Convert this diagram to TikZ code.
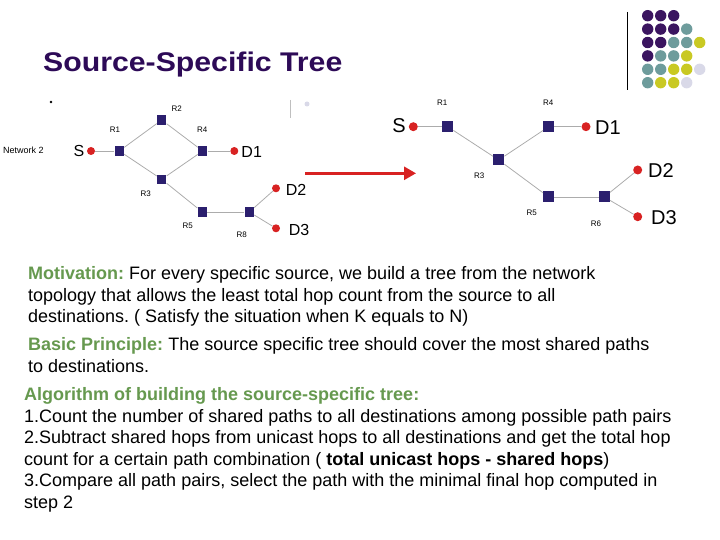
\documentclass[tikz,border=0pt]{standalone}
\usepackage{fontspec}
\setmainfont{Liberation Sans}
\newfontfamily\titlefont[FakeStretch=1.12]{Liberation Sans}
\newfontfamily\bodyfont{Liberation Sans}
\usetikzlibrary{arrows.meta}
\definecolor{titlecol}{HTML}{2D0A57}
\definecolor{headcol}{HTML}{66994F}
\definecolor{navy}{HTML}{2B1F6E}
\definecolor{dotred}{HTML}{D82222}
\definecolor{dp}{HTML}{3B1560}
\definecolor{tl}{HTML}{6E9C9C}
\definecolor{yl}{HTML}{C9C923}
\definecolor{lv}{HTML}{D9D9E8}
\frenchspacing

\begin{document}
\begin{tikzpicture}[x=1pt, y=-1pt,
  rt/.style={rectangle, fill=navy, minimum size=9.5pt, inner sep=0pt},
  rtb/.style={rectangle, fill=navy, minimum size=11pt, inner sep=0pt},
  dst/.style={circle, fill=dotred, minimum size=8pt, inner sep=0pt},
  dstb/.style={circle, fill=dotred, minimum size=9pt, inner sep=0pt},
  rlbl/.style={font=\fontsize{8}{9}\selectfont, inner sep=0pt},
  elbl/.style={font=\fontsize{16}{18}\selectfont, inner sep=0pt},
  elblb/.style={font=\fontsize{20}{22}\selectfont, inner sep=0pt},
  link/.style={draw=gray!65, line width=0.8pt},
  para/.style={font=\bodyfont\fontsize{18}{21.5}\selectfont, align=left,
               anchor=north west, inner sep=0pt},
  head/.style={color=headcol, font=\bfseries}
]
\useasboundingbox (0,0) rectangle (720,540);

% title and corner dots
\node[anchor=base west, inner sep=0pt, text=titlecol,
      font=\titlefont\bfseries\fontsize{27}{30}\selectfont] (title) at (43,71.5) {Source-Specific Tree};
\draw[line width=1pt] (627,12) -- (627,90);
\foreach \r/\lst in {0/{dp,dp,dp},1/{dp,dp,dp,tl},2/{dp,dp,tl,tl,yl},
                     3/{dp,tl,tl,yl},4/{tl,tl,yl,yl,lv},5/{tl,yl,yl,lv}}
  \foreach \c [count=\k from 0] in \lst
    \fill[\c] (647.7+13*\k, 15.7+13.4*\r) circle (5.7pt);

% leftover bullets
\fill (51,102) circle (1.3pt);
\draw[gray!50, line width=0.8pt] (290,100) -- (290,118);
\fill[lv] (307,104) circle (2.5pt);

% network 2
\node[anchor=west, inner sep=0pt, font=\fontsize{9}{10}\selectfont] (net) at (3,150) {Network 2};
\node[dst] (s) at (91,151) {};
\node[rt] (r1) at (119.3,151) {};
\node[rt] (r2) at (161.7,120) {};
\node[rt] (r4) at (202.7,151) {};
\node[rt] (r3) at (161.7,179.3) {};
\node[rt] (r5) at (202.3,212) {};
\node[rt] (r8) at (249.3,212) {};
\node[dst] (d1) at (234.3,151) {};
\node[dst] (d2) at (276,188.3) {};
\node[dst] (d3) at (276,228.3) {};
\node[elbl] at (79,150.5) {S};
\node[elbl] at (251.7,151.5) {D1};
\node[elbl] at (296,189.5) {D2};
\node[elbl] at (299,229.5) {D3};
\node[rlbl] at (115,130) {R1};
\node[rlbl] at (176.7,109) {R2};
\node[rlbl] at (202.3,130) {R4};
\node[rlbl] at (145.7,193.3) {R3};
\node[rlbl] at (187.7,226) {R5};
\node[rlbl] at (241.7,235) {R8};
\draw[link] (s) -- (r1);
\draw[link] (r1) -- (r2);
\draw[link] (r1) -- (r3);
\draw[link] (r2) -- (r4);
\draw[link] (r3) -- (r4);
\draw[link] (r4) -- (d1);
\draw[link] (r3) -- (r5);
\draw[link] (r5) -- (r8);
\draw[link] (r8) -- (d2);
\draw[link] (r8) -- (d3);

% arrow
\coordinate (arrS) at (305,173.3);
\coordinate (arrE) at (416,173.3);
\draw[dotred, line width=2.7pt, -{Triangle[length=12pt,width=13pt]}] (arrS) -- (arrE);

% source-specific tree
\node[dstb] (ts) at (413.3,126.7) {};
\node[rtb] (t1) at (447.7,126.7) {};
\node[rtb] (t4) at (548.7,126.7) {};
\node[rtb] (t3) at (498.7,160) {};
\node[rtb] (t5) at (548.7,197) {};
\node[rtb] (t6) at (604.3,197) {};
\node[dstb] (td1) at (586,126.7) {};
\node[dstb] (td2) at (637.7,170) {};
\node[dstb] (td3) at (637.7,216.7) {};
\node[elblb] at (399,126) {S};
\node[elblb] at (608,127.5) {D1};
\node[elblb] at (661,170.5) {D2};
\node[elblb] at (664,217.5) {D3};
\node[rlbl] at (442.3,102.7) {R1};
\node[rlbl] at (548.3,102.7) {R4};
\node[rlbl] at (479.3,175.7) {R3};
\node[rlbl] at (531.7,212.3) {R5};
\node[rlbl] at (596,223.3) {R6};
\draw[link] (ts) -- (t1);
\draw[link] (t1) -- (t3);
\draw[link] (t3) -- (t4);
\draw[link] (t4) -- (td1);
\draw[link] (t3) -- (t5);
\draw[link] (t5) -- (t6);
\draw[link] (t6) -- (td2);
\draw[link] (t6) -- (td3);

% text
\node[para] (motiv) at (28,266.5) {{\color{headcol}\bfseries Motivation:} For every specific source, we build a tree from the network\\
topology that allows the least total hop count from the source to all\\
destinations. ( Satisfy the situation when K equals to N)};
\node[para] (basic) at (28,337.5) {{\color{headcol}\bfseries Basic Principle:} The source specific tree should cover the most shared paths\\
to destinations.};
\node[para] (algo) at (24,387.5) {{\color{headcol}\bfseries Algorithm of building the source-specific tree:}\\
1.Count the number of shared paths to all destinations among possible path pairs\\
2.Subtract shared hops from unicast hops to all destinations and get the total hop\\
count for a certain path combination ( \textbf{total unicast hops - shared hops})\\
3.Compare all path pairs, select the path with the minimal final hop computed in\\
step 2};
\end{tikzpicture}
\end{document}
